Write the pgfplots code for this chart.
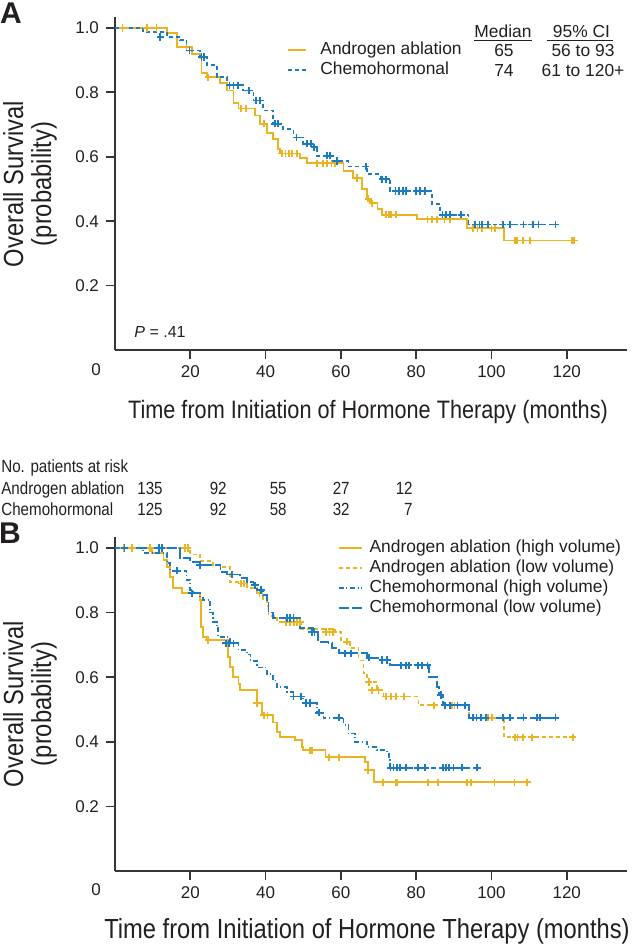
\documentclass[border=0pt]{standalone}
\usepackage{fontspec}
\setmainfont{Liberation Sans}
\newfontfamily\condfont[FakeStretch=0.86]{Liberation Sans}
\usepackage{pgfplots}
\pgfplotsset{compat=1.18}
\definecolor{gold}{HTML}{EAB421}
\definecolor{sblue}{HTML}{1B7BC1}
\definecolor{ink}{HTML}{231F20}

\pgfplotsset{
  kmaxis/.style={
    scale only axis, width=256pt,
    xmin=0, xmax=136, ymin=0, ymax=1.034,
    axis x line*=bottom, axis y line*=left,
    axis line style={ink!90, line width=1pt},
    tick style={ink!90, line width=0.9pt},
    tick align=outside, major tick length=4.5pt,
    xtick={20,40,60,80,100,120}, ytick={0.2,0.4,0.6,0.8,1.0},
    yticklabel={\pgfmathprintnumber[fixed,fixed zerofill,precision=1]{\tick}},
    /pgf/number format/assume math mode=true,
    ticklabel style={font=\fontsize{8.5}{10}\selectfont, text=ink},
    legend cell align=left,
    clip=false,
  },
  cens/.style={only marks, mark=+, mark size=1.8pt, mark options={line width=0.9pt, solid}, forget plot},
}

\begin{document}
\begin{tikzpicture}
\path[use as bounding box] (0,0) rectangle (316.5pt,-472pt);

% ---------------- panel A
\begin{axis}[kmaxis, height=166.5pt, at={(57.5pt,-175pt)}, anchor=south west,
  legend style={at={(0.336,0.931)}, anchor=north west, draw=none, fill=none,
    inner sep=0pt, row sep=0.8pt, column sep=6pt,
    nodes={inner sep=0.5pt, text height=6.4pt, text depth=1.8pt},
    font=\fontsize{8.7}{10}\selectfont, text=ink},
  legend image code/.code={\draw[#1, line width=1pt] (0pt,0pt) -- (9pt,0pt);}]
\addplot[const plot, line width=0.9pt, gold] coordinates {
 (0,1.0)(13.8,0.984)(16.5,0.94)(20.5,0.92)(22.6,0.906)(23,0.86)(24.4,0.847)
 (27.9,0.83)(29.7,0.806)(31.5,0.766)(32.8,0.75)(37.2,0.728)(38.6,0.703)
 (40.3,0.675)(42,0.656)(43.4,0.625)(43.9,0.61)(49.2,0.597)(51,0.58)
 (60.7,0.556)(63.3,0.534)(65.7,0.5)(67,0.47)(67.8,0.456)(69.7,0.437)
 (71,0.42)(80.3,0.406)(93.6,0.378)(103.3,0.34)(121.8,0.34)};
\addlegendentry{Androgen ablation}
\addplot[const plot, line width=0.9pt, sblue, dash pattern=on 2pt off 1.5pt] coordinates {
 (0,1.0)(7.5,0.988)(13.8,0.972)(17.3,0.962)(19,0.93)(22.6,0.91)(24.4,0.884)
 (27,0.847)(29.7,0.822)(34,0.806)(36.8,0.775)(39.4,0.744)(42,0.703)
 (44.7,0.687)(47.4,0.66)(50,0.64)(52.7,0.63)(53.6,0.603)(58,0.587)
 (62,0.57)(67,0.546)(70.5,0.53)(73,0.494)(84.3,0.453)(86.4,0.42)
 (93.9,0.39)(117,0.39)};
\addlegendentry{Chemohormonal}
\addplot[cens, gold] coordinates {
 (2,1)(8.5,1)(11,1)(19,0.94)(24.8,0.847)(33.5,0.75)(34.7,0.75)(39.6,0.703)
 (44.3,0.61)(45.3,0.61)(46.2,0.61)(47.1,0.61)(48.3,0.61)(53.6,0.58)
 (55.3,0.58)(56.4,0.58)(57.5,0.58)(58.5,0.58)(64.2,0.534)(67.3,0.47)
 (68.3,0.456)(72,0.42)(72.8,0.42)(73.4,0.42)(74.7,0.42)(83,0.406)
 (84.2,0.406)(85.5,0.406)(87.5,0.406)(89,0.406)(95,0.378)(96.3,0.378)
 (97.5,0.378)(100,0.378)(101,0.378)(106.2,0.34)(106.8,0.34)(108.4,0.34)
 (110.2,0.34)(121.4,0.34)(122,0.34)};
\addplot[cens, sblue] coordinates {
 (12,0.972)(19.8,0.93)(23,0.91)(23.6,0.91)(30.4,0.822)(31.5,0.822)
 (32.7,0.822)(35.5,0.806)(37.5,0.775)(38.5,0.775)(42.5,0.703)(43.2,0.703)
 (48.2,0.66)(51,0.64)(52,0.64)(52.9,0.63)(56.4,0.603)(57.2,0.603)
 (59,0.587)(66.6,0.57)(71,0.53)(72,0.53)(74.5,0.494)(75.5,0.494)
 (76.5,0.494)(77.2,0.494)(80,0.494)(81,0.494)(82.4,0.494)(87,0.42)
 (88,0.42)(89,0.42)(92,0.42)(95.7,0.39)(96.8,0.39)(97.5,0.39)(99,0.39)
 (103,0.39)(105,0.39)(108.5,0.39)(111,0.39)(112.5,0.39)(117,0.39)};
\end{axis}

% ---------------- panel B
\begin{axis}[kmaxis, height=167pt, at={(57.5pt,-435.5pt)}, anchor=south west,
  legend style={at={(0.434,0.997)}, anchor=north west, draw=none, fill=none,
    inner sep=0pt, row sep=0.8pt, column sep=3pt,
    nodes={inner sep=0.5pt, text height=6.4pt, text depth=1.8pt},
    font=\fontsize{8.7}{10}\selectfont, text=ink},
  legend image code/.code={\draw[#1, line width=1pt] (0pt,0pt) -- (11.5pt,0pt);}]
\addplot[const plot, line width=0.9pt, gold] coordinates {
 (0,1)(9.8,0.984)(12.9,0.963)(13.8,0.94)(14.6,0.91)(15.5,0.876)(17.8,0.86)
 (22.6,0.84)(22.9,0.755)(23.4,0.724)(24.5,0.715)(30,0.663)(30.6,0.631)
 (31.4,0.6)(32.8,0.58)(33.2,0.56)(37.7,0.519)(39,0.482)(42,0.46)(43,0.43)
 (43.9,0.414)(47.9,0.405)(49.6,0.383)(50,0.374)(55.9,0.352)(66.5,0.337)
 (67.3,0.312)(68.8,0.275)(109.5,0.275)};
\addlegendentry{Androgen ablation (high volume)}
\addplot[const plot, line width=0.9pt, gold, dash pattern=on 2pt off 1.5pt] coordinates {
 (0,1)(20,0.98)(22.6,0.96)(26,0.947)(28,0.94)(30.6,0.895)(33.2,0.89)
 (35,0.875)(37.7,0.86)(39.4,0.84)(40.3,0.82)(40.8,0.79)(43,0.77)(49.5,0.75)
 (58.5,0.74)(60,0.71)(62.5,0.69)(64.7,0.652)(66,0.612)(67,0.585)(69.6,0.56)
 (71.3,0.54)(80.6,0.513)(94,0.474)(103.3,0.414)(121.8,0.414)};
\addlegendentry{Androgen ablation (low volume)}
\addplot[const plot, line width=0.9pt, sblue, dash pattern=on 2.5pt off 1.3pt on 0.6pt off 1.3pt] coordinates {
 (0,1)(7.5,0.984)(13.8,0.953)(14.6,0.93)(19,0.9)(20,0.87)(20.8,0.86)
 (22.6,0.85)(23.4,0.84)(25.3,0.8)(26,0.77)(27,0.752)(27.4,0.724)(30.6,0.705)
 (32.8,0.684)(35,0.67)(36,0.65)(37.7,0.63)(40.3,0.61)(42,0.59)(43,0.57)
 (45.7,0.553)(47.4,0.54)(50,0.52)(53.6,0.49)(55.4,0.474)(60.7,0.452)
 (62,0.426)(63.8,0.4)(67,0.384)(69.6,0.374)(72.3,0.364)(72.7,0.343)
 (73,0.32)(96.2,0.32)};
\addlegendentry{Chemohormonal (high volume)}
\addplot[const plot, line width=0.9pt, sblue, dash pattern=on 5pt off 1.5pt] coordinates {
 (0,1)(17.3,0.97)(20,0.957)(22.6,0.947)(28,0.925)(29.7,0.918)(33.2,0.906)
 (35,0.895)(36.8,0.885)(37.7,0.87)(39.4,0.855)(40.3,0.84)(40.8,0.8)
 (42,0.783)(49.2,0.752)(52.7,0.74)(54,0.71)(56.7,0.705)(57.6,0.69)
 (59.4,0.674)(67,0.66)(70.5,0.653)(73,0.637)(83.3,0.6)(85.6,0.57)(86,0.545)
 (87.2,0.513)(94,0.474)(117,0.474)};
\addlegendentry{Chemohormonal (low volume)}
\addplot[cens, gold] coordinates {
 (24.8,0.715)(37.7,0.519)(39.5,0.482)(40.5,0.482)(51.9,0.374)(52.4,0.374)
 (56.8,0.352)(59.4,0.352)(67.1,0.312)(71.2,0.275)(74.5,0.275)(75,0.275)
 (83.2,0.275)(85.8,0.275)(93.6,0.275)(94.5,0.275)(100.8,0.275)(106.1,0.275)
 (109.5,0.275)};
\addplot[cens, gold] coordinates {
 (2.3,1)(4.5,1)(9.4,1)(18.5,1)(19.3,1)(33.5,0.89)(34.3,0.89)(38.4,0.86)
 (45.5,0.77)(46.5,0.77)(47.5,0.77)(48.3,0.77)(49.2,0.77)(56,0.74)(57,0.74)
 (58,0.74)(61.6,0.71)(67.4,0.585)(68.2,0.56)(70,0.56)(72,0.54)(73.4,0.54)
 (74.6,0.54)(76.8,0.54)(84.8,0.513)(89.6,0.513)(90.2,0.513)(99,0.474)
 (100.2,0.474)(106.3,0.414)(106.9,0.414)(108.3,0.414)(110.8,0.414)(121.6,0.414)};
\addplot[cens, sblue] coordinates {
 (16.5,0.93)(20.4,0.86)(29.5,0.705)(30.3,0.705)(31.5,0.705)(47.4,0.54)
 (49.5,0.54)(50.8,0.52)(51.8,0.52)(54.2,0.49)(59.6,0.474)(73.2,0.32)
 (74,0.32)(74.9,0.32)(75.8,0.32)(77.3,0.32)(80.5,0.32)(82.3,0.32)(87.2,0.32)
 (88,0.32)(88.8,0.32)(89.9,0.32)(92.2,0.32)(96.2,0.32)};
\addplot[cens, sblue] coordinates {
 (2.5,1)(11.6,1)(12.4,1)(22.6,0.947)(31,0.918)(37.2,0.885)(38.8,0.87)
 (45.7,0.783)(46.5,0.783)(47.4,0.783)(52.3,0.74)(53,0.74)(61,0.674)
 (62.6,0.674)(67.5,0.66)(71,0.653)(72.3,0.653)(76,0.637)(77.3,0.637)
 (78,0.637)(80.5,0.637)(81.5,0.637)(83,0.637)(86.5,0.545)(87.6,0.513)
 (89,0.513)(91,0.513)(93,0.513)(95,0.474)(96,0.474)(97.2,0.474)(98.5,0.474)
 (103,0.474)(105,0.474)(108.5,0.474)(112,0.474)(112.8,0.474)(117,0.474)};
\end{axis}

% ---------------- text (pixel grid of the reference)
\begin{scope}[x=0.5pt, y=-0.5pt, every node/.style={text=ink, inner sep=0pt}]
\node[font=\bfseries\fontsize{15}{15}\selectfont] at (11,13) {A};
\node[font=\bfseries\fontsize{15}{15}\selectfont] at (10,533) {B};
\node[rotate=90, align=center, font=\condfont\fontsize{13.8}{14}\selectfont] at (30,184) {Overall Survival\\(probability)};
\node[rotate=90, align=center, font=\condfont\fontsize{13.8}{14}\selectfont] at (30,704) {Overall Survival\\(probability)};
\node[anchor=base, font=\condfont\fontsize{12.6}{14}\selectfont] at (368,418) {Time from Initiation of Hormone Therapy (months)};
\node[anchor=base, font=\condfont\fontsize{13.8}{14}\selectfont] at (367,938) {Time from Initiation of Hormone Therapy (months)};
\node[font=\fontsize{8.5}{10}\selectfont] at (96,370) {0};
\node[font=\fontsize{8.5}{10}\selectfont] at (96,890) {0};
\node[font=\fontsize{8}{10}\selectfont] at (160,332) {\textit{P} = .41};
% median table
\begin{scope}[every node/.append style={anchor=base, font=\fontsize{8.7}{10}\selectfont}]
\node at (503,37) {\underline{Median}};
\node at (580,37) {\underline{\,\,95\% CI\,}};
\node at (504,56) {65};
\node at (583,56) {56 to 93};
\node at (504,76) {74};
\node at (583,76) {61 to 120+};
\end{scope}
% risk table
\begin{scope}[every node/.append style={anchor=base west, font=\condfont\fontsize{8.8}{10}\selectfont}]
\node at (1,472) {No. patients at risk};
\node at (1,494) {Androgen ablation};
\node at (1,515) {Chemohormonal};
\end{scope}
\begin{scope}[every node/.append style={anchor=base east, font=\condfont\fontsize{8.8}{10}\selectfont}]
\node at (163,494) {135}; \node at (227,494) {92}; \node at (287,494) {55};
\node at (350,494) {27}; \node at (413,494) {12};
\node at (163,515) {125}; \node at (227,515) {92}; \node at (287,515) {58};
\node at (350,515) {32}; \node at (413,515) {7};
\end{scope}
\end{scope}
\end{tikzpicture}
\end{document}
